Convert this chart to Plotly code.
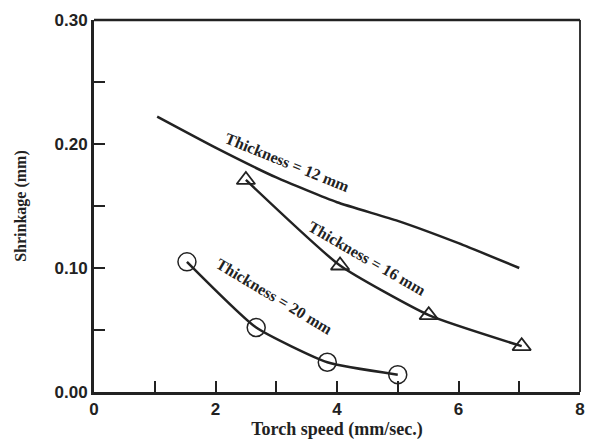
import plotly.graph_objects as go

# Thickness = 12 mm (smooth curve, no markers)
speed_12 = [1.04, 2.0, 3.0, 4.0, 5.0, 6.0, 7.0]
shrink_12 = [0.222, 0.197, 0.173, 0.153, 0.138, 0.120, 0.100]

# Thickness = 16 mm (triangles)
speed_16 = [2.5, 4.05, 5.51, 7.04]
shrink_16 = [0.171, 0.102, 0.062, 0.037]

# Thickness = 20 mm (circles)
speed_20 = [1.53, 2.67, 3.84, 5.0]
shrink_20 = [0.105, 0.052, 0.024, 0.014]

labels = ["Thickness = 12 mm", "Thickness = 16 mm", "Thickness = 20 mm"]
x_ticks = [0, 1, 2, 3, 4, 5, 6, 7, 8]
x_ticktext = ["0", "", "2", "", "4", "", "6", "", "8"]
y_ticks = [0.0, 0.05, 0.10, 0.15, 0.20, 0.25, 0.30]
y_ticktext = ["0.00", "", "0.10", "", "0.20", "", "0.30"]

ink = "#222222"

fig = go.Figure()
fig.add_trace(go.Scatter(x=speed_12, y=shrink_12, mode="lines",
                         line=dict(color=ink, width=2.5, shape="spline", smoothing=0.5)))
fig.add_trace(go.Scatter(x=speed_16, y=shrink_16, mode="lines+markers",
                         line=dict(color=ink, width=2.5, shape="spline", smoothing=0.5),
                         marker=dict(symbol="triangle-up-open", size=16, color=ink,
                                     line=dict(width=1.8, color=ink))))
fig.add_trace(go.Scatter(x=speed_20, y=shrink_20, mode="lines+markers",
                         line=dict(color=ink, width=2.5, shape="spline", smoothing=0.5),
                         marker=dict(symbol="circle-open", size=18, color=ink,
                                     line=dict(width=1.5, color=ink))))

lab_font = dict(family="Liberation Serif", size=16, color=ink)
fig.add_annotation(x=3.19, y=0.185, text="<b>" + labels[0] + "</b>", showarrow=False,
                   textangle=22, font=lab_font)
fig.add_annotation(x=4.5, y=0.108, text="<b>" + labels[1] + "</b>", showarrow=False,
                   textangle=30, font=lab_font)
fig.add_annotation(x=2.97, y=0.077, text="<b>" + labels[2] + "</b>", showarrow=False,
                   textangle=31, font=lab_font)

tick_font = dict(family="Liberation Sans", size=17, color=ink, weight="bold")
fig.update_layout(
    width=589, height=441,
    margin=dict(l=94, r=4, t=20, b=49),
    paper_bgcolor="white", plot_bgcolor="white",
    showlegend=False,
    xaxis=dict(range=[0, 8], tickvals=x_ticks, ticktext=x_ticktext,
               ticks="inside", ticklen=11, tickwidth=2, tickcolor=ink,
               showline=True, linewidth=3, linecolor=ink, showgrid=False, zeroline=False,
               tickfont=tick_font, ticklabeloverflow="allow",
               title=dict(text="<b>Torch speed (mm/sec.)</b>", standoff=2,
                          font=dict(family="Liberation Serif", size=18, color=ink))),
    yaxis=dict(range=[0, 0.30], tickvals=y_ticks, ticktext=y_ticktext,
               ticks="inside", ticklen=11, tickwidth=2, tickcolor=ink,
               showline=True, linewidth=3, linecolor=ink, showgrid=False, zeroline=False,
               tickfont=tick_font,
               title=dict(text="<b>Shrinkage (mm)</b>", standoff=24,
                          font=dict(family="Liberation Serif", size=16, color=ink))),
)
fig.add_shape(type="line", xref="paper", yref="paper", x0=0, x1=1, y0=1, y1=1,
              line=dict(color=ink, width=2.5))
fig.add_shape(type="line", xref="paper", yref="paper", x0=1, x1=1, y0=0, y1=1,
              line=dict(color=ink, width=1.8))

fig.write_html("out.html")
